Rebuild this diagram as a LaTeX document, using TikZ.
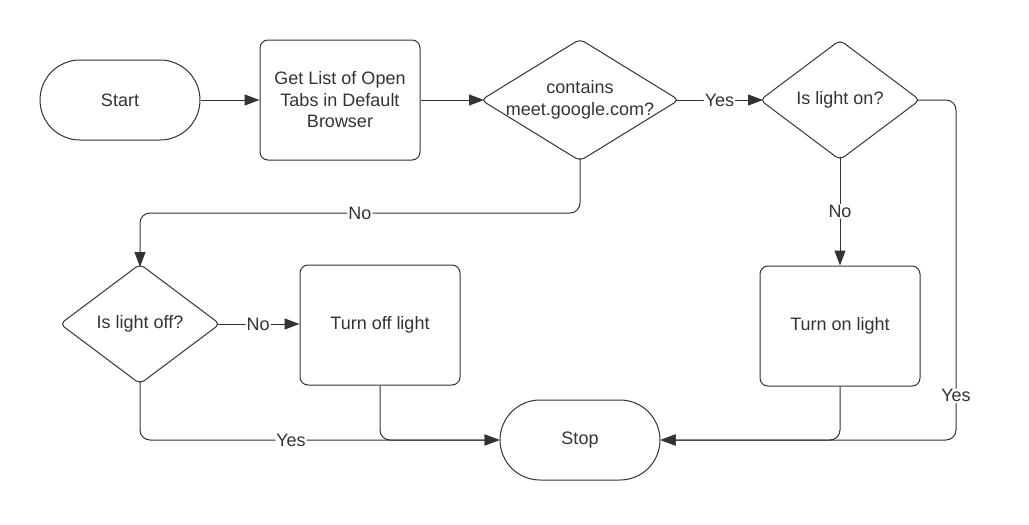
\documentclass[tikz,border=0pt]{standalone}
\usepackage{fontspec}
\setmainfont{Liberation Sans}
\usetikzlibrary{shapes.geometric, arrows.meta}
\definecolor{ink}{HTML}{333333}
\tikzset{
  terminal/.style={draw=ink, rounded corners=40pt, minimum width=160pt, minimum height=80pt},
  process/.style={draw=ink, rounded corners=8pt, minimum width=160pt, minimum height=120pt, align=center},
  decision/.style={draw=ink, diamond, rounded corners=5pt, inner sep=0pt, outer sep=-2pt},
  flow/.style={draw=ink, -{Triangle[length=15pt, width=11pt]}, rounded corners=10pt},
  answer/.style={fill=white, inner sep=1pt}
}

\begin{document}
\begin{tikzpicture}[x=1pt, y=-1pt, line width=1pt, text=ink, font=\fontsize{18}{21.5}\selectfont]
\useasboundingbox (0,0) rectangle (1029,525);
\node[terminal] (start) at (120,100) {Start};
\node[process] (tabs) at (340,100) {Get List of Open\\Tabs in Default\\Browser};
\node[decision, minimum width=196pt, minimum height=120pt,
  label={[align=center]center:{contains\\meet.google.com?}}] (meet) at (580,100) {};
\node[decision, minimum width=158pt, minimum height=118pt,
  label={center:Is light on?}] (lighton) at (840,100) {};
\node[decision, minimum width=158pt, minimum height=118pt,
  label={center:Is light off?}] (lightoff) at (140,324) {};
\node[process] (offlight) at (380,325) {Turn off light};
\node[process] (onlight) at (840,326) {Turn on light};
\node[terminal] (stop) at (580,440) {Stop};

\draw[flow] (start) -- (tabs);
\draw[flow] (tabs) -- (meet);
\draw[flow] (meet) -- node[answer] {Yes} (lighton);
\draw[flow] (lighton) -- node[answer] {No} (onlight);
\draw[flow] (meet.south) -- ++(0,55) -| node[answer, pos=0.25] {No} (lightoff.north);
\draw[flow] (lightoff.east) -- node[answer] {No} (lightoff.east-|offlight.west);
\draw[flow] (lightoff.south) |- node[answer, pos=0.71] {Yes} (stop.west);
\draw[flow] (offlight.south) |- (stop.west);
\draw[flow] (onlight.south) |- (stop.east);
\draw[flow] (lighton.east) -- ++(39,0) |- node[answer, pos=0.435] {Yes} (stop.east);
\end{tikzpicture}
\end{document}
